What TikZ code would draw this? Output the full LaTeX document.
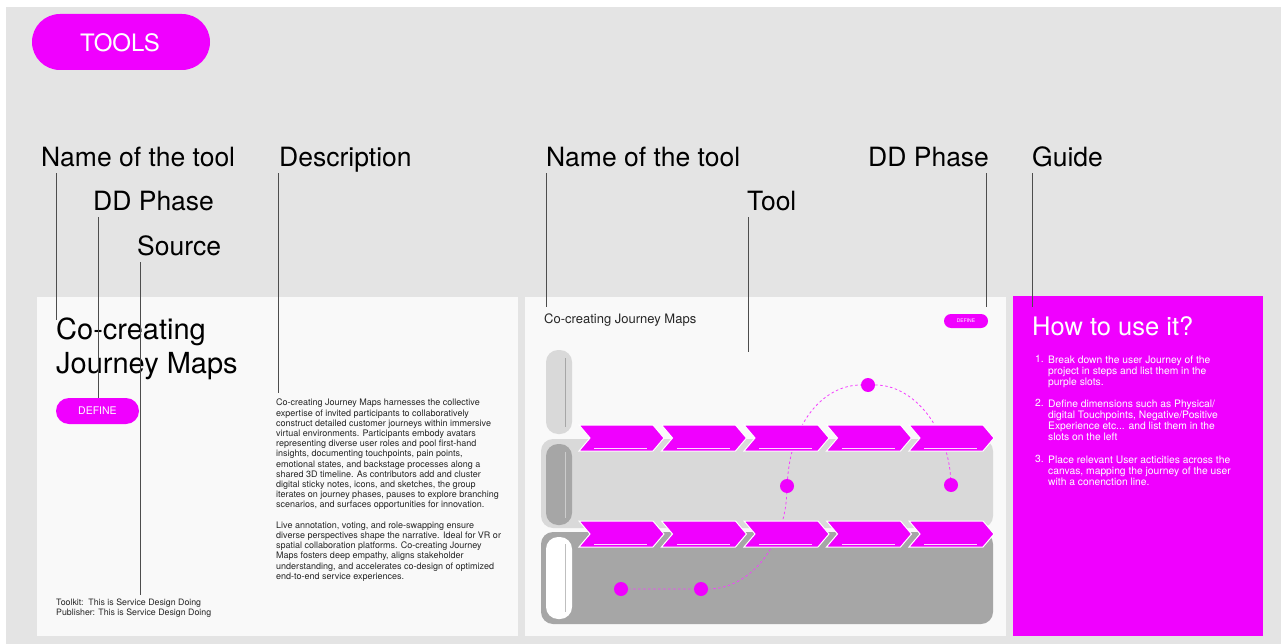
\documentclass[tikz,border=0pt]{standalone}
\usepackage{fontspec}
\setmainfont{TeX Gyre Heros}
\usetikzlibrary{positioning}
\definecolor{toolpink}{RGB}{240,0,255}
\definecolor{canvas}{HTML}{E4E4E4}
\definecolor{sheet}{HTML}{F9F9F9}
\definecolor{rowlight}{HTML}{D9D9D9}
\definecolor{rowdark}{HTML}{A6A6A6}
\definecolor{leadgray}{HTML}{4D4D4D}
\newcommand{\fsz}[2]{\fontsize{#1}{#2}\selectfont}
\tikzset{
  heading/.style={anchor=base west,inner sep=0pt,font=\fsz{26.5}{30},text=black},
  leader/.style={draw=leadgray,line width=0.9pt},
  bodytext/.style={anchor=north west,inner sep=0pt,align=left,font=\fsz{9}{10.2},text=black!85},
  guidetext/.style={anchor=north west,inner sep=0pt,align=left,font=\fsz{10.3}{11.3},text=white},
  stop/.style={circle,fill=toolpink,inner sep=0pt,minimum size=14pt},
  trail/.style={draw=toolpink!75,line width=0.8pt,dash pattern=on 2.5pt off 2.5pt},
  chevron/.style={fill=toolpink,draw=white,line width=1pt},
}
\begin{document}
\begin{tikzpicture}[x=1pt,y=-1pt]
\useasboundingbox (0,0) rectangle (1281,644);
% background
\fill[white] (0,0) rectangle (1281,644);
\fill[canvas] (6,7) rectangle (1281,644);
\fill[toolpink,rounded corners=28pt] (32,14) rectangle (210,70);
\node[font=\fsz{24}{28},text=white,inner sep=0pt] (tools) at (120,43) {TOOLS};
% panels
\fill[sheet] (37,297) rectangle (518,636);
\fill[sheet] (525,297) rectangle (1006,636);
\fill[toolpink] (1013,296) rectangle (1263,636);
% left panel
\node[anchor=north west,inner sep=0pt,align=left,font=\fsz{29}{34}] (toolname) at (56,318) {Co-creating\\Journey Maps};
\fill[toolpink,rounded corners=13pt] (56,398) rectangle (139,424);
\node[font=\fsz{10.5}{12},text=white,inner sep=0pt] (phase) at (97.5,411) {DEFINE};
\node[bodytext] (desc) at (276,399) {Co-creating Journey Maps harnesses the collective\\
expertise of invited participants to collaboratively\\
construct detailed customer journeys within immersive\\
virtual environments. Participants embody avatars\\
representing diverse user roles and pool first-hand\\
insights, documenting touchpoints, pain points,\\
emotional states, and backstage processes along a\\
shared 3D timeline. As contributors add and cluster\\
digital sticky notes, icons, and sketches, the group\\
iterates on journey phases, pauses to explore branching\\
scenarios, and surfaces opportunities for innovation.\\[10.2pt]
Live annotation, voting, and role-swapping ensure\\
diverse perspectives shape the narrative. Ideal for VR or\\
spatial collaboration platforms. Co-creating Journey\\
Maps fosters deep empathy, aligns stakeholder\\
understanding, and accelerates co-design of optimized\\
end-to-end service experiences.};
\node[bodytext,font=\fsz{8.8}{10}] (source) at (56,599) {Toolkit:\ \ This is Service Design Doing\\Publisher: This is Service Design Doing};
% tool panel
\node[anchor=base west,inner sep=0pt,font=\fsz{13}{15},text=black!85] (toolname2) at (544,323) {Co-creating Journey Maps};
\fill[toolpink,rounded corners=7pt] (944,314) rectangle (988,328);
\node[font=\fsz{5}{6},text=white,inner sep=0pt] (phase2) at (966,321) {DEFINE};
\fill[rowlight,rounded corners=12pt] (541,439) rectangle (993,528);
\fill[rowdark,rounded corners=12pt] (541,532) rectangle (993,624);
\fill[rowlight,rounded corners=12pt] (546,350) rectangle (572,434);
\fill[rowdark,rounded corners=12pt] (546,444) rectangle (572,525);
\fill[white,rounded corners=12pt] (546,537) rectangle (572,619);
\draw[black!35,line width=0.8pt] (565,358) -- (565,427);
\draw[white!80!black,line width=0.8pt] (565,452) -- (565,518);
\draw[black!25,line width=0.8pt] (565,544) -- (565,612);
% journey line
\node[stop] (d1) at (868,385) {};
\node[stop] (d2) at (787,486) {};
\node[stop] (d3) at (951,485) {};
\node[stop] (d4) at (621,589) {};
\node[stop] (d5) at (701,589) {};
\draw[trail] (d4) -- (d5) .. controls (750,589) and (785,545) .. (d2)
  .. controls (792,420) and (825,385) .. (d1)
  .. controls (915,385) and (948,430) .. (d3);
% steps
\foreach \x in {579,661.5,744,826.5,909}{
  \foreach \y in {425,521}{
    \draw[chevron] (\x,\y) -- (\x+74,\y) -- (\x+85,\y+13) -- (\x+74,\y+26) -- (\x,\y+26) -- (\x+11,\y+13) -- cycle;
    \draw[white!85!toolpink,line width=0.8pt] (\x+15,\y+23) -- (\x+68,\y+23);
  }
}
% guide
\node[anchor=base west,inner sep=0pt,font=\fsz{25.5}{30},text=white] (howto) at (1032,335) {How to use it?};
\node[guidetext] (n1) at (1035,355.3) {1.};
\node[guidetext] (g1) at (1048,355.3) {Break down the user Journey of the\\project in steps and list them in the\\purple slots.};
\node[guidetext] (n2) at (1035,399.3) {2.};
\node[guidetext] (g2) at (1048,399.3) {Define dimensions such as Physical/\\digital Touchpoints, Negative/Positive\\Experience etc... and list them in the\\slots on the left};
\node[guidetext] (n3) at (1035,455.3) {3.};
\node[guidetext] (g3) at (1048,455.3) {Place relevant User acticities across the\\canvas, mapping the journey of the user\\with a conenction line.};
% callouts
\node[heading] (nameL) at (41,167) {Name of the tool};
\node[heading] (phaseL) at (93,211) {DD Phase};
\node[heading] (sourceL) at (137,255) {Source};
\node[heading] (descL) at (279,167) {Description};
\node[heading] (nameR) at (546,167) {Name of the tool};
\node[heading] (toolR) at (747,211) {Tool};
\node[heading] (phaseR) at (868,167) {DD Phase};
\node[heading] (guideR) at (1032,167) {Guide};
\coordinate (nameLend) at (56,320);
\coordinate (phaseLend) at (98,398);
\coordinate (sourceLend) at (140,595);
\coordinate (descLend) at (278,393);
\coordinate (nameRend) at (546,307);
\coordinate (toolRend) at (748,352);
\coordinate (phaseRend) at (986,307);
\coordinate (guideRend) at (1032,307);
\draw[leader] ([yshift=-6.5pt]nameL.base west -| nameLend) -- (nameLend);
\draw[leader] ([yshift=-6.5pt]phaseL.base west -| phaseLend) -- (phaseLend);
\draw[leader] ([yshift=-7pt]sourceL.base west -| sourceLend) -- (sourceLend);
\draw[leader] ([yshift=-6.5pt]descL.base west -| descLend) -- (descLend);
\draw[leader] ([yshift=-6.5pt]nameR.base west -| nameRend) -- (nameRend);
\draw[leader] ([yshift=-6.5pt]toolR.base west -| toolRend) -- (toolRend);
\draw[leader] ([yshift=-6.5pt]phaseR.base west -| phaseRend) -- (phaseRend);
\draw[leader] ([yshift=-6.5pt]guideR.base west -| guideRend) -- (guideRend);
\end{tikzpicture}
\end{document}
